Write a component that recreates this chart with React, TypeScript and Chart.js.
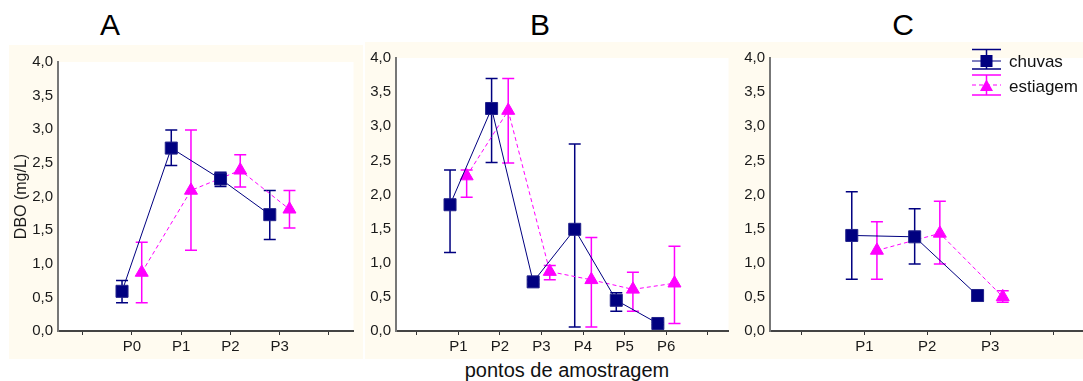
import React, { useEffect, useRef } from 'react';
import { Chart, registerables } from 'chart.js';

Chart.register(...registerables);

const FONT = "'Liberation Sans', Arial, sans-serif";

// ---------- data ----------
const yTickValues = [0, 0.5, 1, 1.5, 2, 2.5, 3, 3.5, 4];
const yTickLabels = ['0,0', '0,5', '1,0', '1,5', '2,0', '2,5', '3,0', '3,5', '4,0'];

const catsA = ['P0', 'P1', 'P2', 'P3'];
const chuvasA = [0.59, 2.72, 2.26, 1.73];
const chuvasALo = [0.42, 2.46, 2.15, 1.36];
const chuvasAHi = [0.75, 2.99, 2.36, 2.09];
const estiagemA = [0.87, 2.09, 2.39, 1.81];
const estiagemALo = [0.42, 1.2, 2.14, 1.53];
const estiagemAHi = [1.32, 2.99, 2.62, 2.09];

const catsB = ['P1', 'P2', 'P3', 'P4', 'P5', 'P6'];
const chuvasB = [1.85, 3.26, 0.72, 1.49, 0.45, 0.11];
const chuvasBLo = [1.15, 2.47, 0.69, 0.06, 0.29, 0.09];
const chuvasBHi = [2.36, 3.7, 0.75, 2.74, 0.56, 0.13];
const estiagemB = [2.27, 3.23, 0.87, 0.75, 0.61, 0.7];
const estiagemBLo = [1.96, 2.46, 0.75, 0.06, 0.29, 0.11];
const estiagemBHi = [2.36, 3.7, 0.96, 1.37, 0.86, 1.24];

const catsC = ['P1', 'P2', 'P3'];
const chuvasC = [1.4, 1.38, 0.52];
const chuvasCLo = [0.76, 0.98, 0.44];
const chuvasCHi = [2.04, 1.79, 0.59];
const estiagemC = [1.18, 1.43, 0.5];
const estiagemCLo = [0.76, 0.98, 0.42];
const estiagemCHi = [1.6, 1.9, 0.59];

const seriesNames = ['chuvas', 'estiagem'];
const yTitle = 'DBO (mg/L)';
const xTitle = 'pontos de amostragem';
const panelLetters = ['A', 'B', 'C'];

// ---------- styles ----------
const NAVY = '#000080';
const MAGENTA = '#FF00FF';
const CREAM = '#FFFBF0';
const OFFSET = 0.2;

const bgPlugin = {
  id: 'bg',
  beforeDraw(chart: any) {
    const { ctx, chartArea, width, height } = chart;
    ctx.save();
    ctx.fillStyle = CREAM;
    ctx.fillRect(0, 0, width, height);
    ctx.fillStyle = '#ffffff';
    ctx.fillRect(chartArea.left, chartArea.top, chartArea.right - chartArea.left, chartArea.bottom - chartArea.top);
    ctx.restore();
  },
};

const errorBarPlugin = {
  id: 'errbars',
  beforeDatasetsDraw(chart: any) {
    const { ctx } = chart;
    const yScale = chart.scales.y;
    chart.data.datasets.forEach((ds: any, di: number) => {
      const meta = chart.getDatasetMeta(di);
      ctx.save();
      ctx.strokeStyle = ds.errColor;
      ctx.lineWidth = 1.5;
      meta.data.forEach((pt: any, i: number) => {
        const x = pt.x;
        const yl = yScale.getPixelForValue(ds.errLo[i]);
        const yh = yScale.getPixelForValue(ds.errHi[i]);
        ctx.beginPath();
        ctx.moveTo(x, yl);
        ctx.lineTo(x, yh);
        ctx.moveTo(x - 6, yl);
        ctx.lineTo(x + 6, yl);
        ctx.moveTo(x - 6, yh);
        ctx.lineTo(x + 6, yh);
        ctx.stroke();
      });
      ctx.restore();
    });
  },
};

const legendPlugin = {
  id: 'customLegend',
  afterDraw(chart: any) {
    const { ctx } = chart;
    const x0 = 234;
    const x1 = 263;
    const cx = (x0 + x1) / 2;
    ctx.save();
    // chuvas
    ctx.strokeStyle = NAVY;
    ctx.lineWidth = 1.5;
    ctx.beginPath();
    ctx.moveTo(x0, 7.5); ctx.lineTo(x1, 7.5);
    ctx.moveTo(x0, 27); ctx.lineTo(x1, 27);
    ctx.moveTo(cx, 7.5); ctx.lineTo(cx, 27);
    ctx.stroke();
    ctx.lineWidth = 1;
    ctx.beginPath();
    ctx.moveTo(x0, 19); ctx.lineTo(x1, 19);
    ctx.stroke();
    ctx.fillStyle = NAVY;
    ctx.fillRect(cx - 6, 13, 12, 12);
    // estiagem
    ctx.strokeStyle = MAGENTA;
    ctx.lineWidth = 1.5;
    ctx.beginPath();
    ctx.moveTo(x0, 33); ctx.lineTo(x1, 33);
    ctx.moveTo(x0, 53); ctx.lineTo(x1, 53);
    ctx.moveTo(cx, 33); ctx.lineTo(cx, 53);
    ctx.stroke();
    ctx.lineWidth = 1;
    ctx.setLineDash([4, 3]);
    ctx.beginPath();
    ctx.moveTo(x0, 43); ctx.lineTo(x1, 43);
    ctx.stroke();
    ctx.setLineDash([]);
    ctx.fillStyle = MAGENTA;
    ctx.beginPath();
    ctx.moveTo(cx, 37.5);
    ctx.lineTo(cx + 6.5, 49);
    ctx.lineTo(cx - 6.5, 49);
    ctx.closePath();
    ctx.fill();
    // text
    ctx.fillStyle = '#111';
    ctx.font = `17px ${FONT}`;
    ctx.textAlign = 'left';
    ctx.textBaseline = 'alphabetic';
    ctx.fillText(seriesNames[0], 271, 24.7);
    ctx.fillText(seriesNames[1], 271, 49.7);
    ctx.restore();
  },
};

type PanelProps = {
  cats: string[];
  chuvas: number[];
  chuvasLo: number[];
  chuvasHi: number[];
  estiagem: number[];
  estiagemLo: number[];
  estiagemHi: number[];
  left: number;
  top: number;
  width: number;
  height: number;
  yWidth: number;
  padTop: number;
  padRight: number;
  xHeight: number;
  showYTitle?: boolean;
  showLegend?: boolean;
};

function Panel(p: PanelProps) {
  const ref = useRef<HTMLCanvasElement>(null);
  useEffect(() => {
    const n = p.cats.length;
    const tickPositions = Array.from({ length: n + 2 }, (_, i) => i);
    const plugins: any[] = [bgPlugin, errorBarPlugin];
    if (p.showLegend) plugins.push(legendPlugin);
    const chart = new Chart(ref.current as HTMLCanvasElement, {
      type: 'line',
      data: {
        datasets: [
          {
            label: seriesNames[0],
            data: p.chuvas.map((v, i) => ({ x: i + 1 - OFFSET, y: v })),
            errLo: p.chuvasLo,
            errHi: p.chuvasHi,
            errColor: NAVY,
            borderColor: NAVY,
            borderWidth: 1,
            pointStyle: 'rect',
            pointRadius: 8.5,
            pointBackgroundColor: NAVY,
            pointBorderColor: '#22228a',
            pointBorderWidth: 1,
            tension: 0,
            fill: false,
            clip: false,
          } as any,
          {
            label: seriesNames[1],
            data: p.estiagem.map((v, i) => ({ x: i + 1 + OFFSET, y: v })),
            errLo: p.estiagemLo,
            errHi: p.estiagemHi,
            errColor: MAGENTA,
            borderColor: MAGENTA,
            borderWidth: 1,
            borderDash: [4, 3],
            pointStyle: 'triangle',
            pointRadius: 7.5,
            pointBackgroundColor: MAGENTA,
            pointBorderColor: MAGENTA,
            pointBorderWidth: 1,
            tension: 0,
            fill: false,
            clip: false,
          } as any,
        ],
      },
      options: {
        responsive: false,
        animation: false,
        events: [],
        layout: { padding: { left: 0, top: p.padTop, right: p.padRight, bottom: 0 } },
        plugins: { legend: { display: false }, tooltip: { enabled: false } },
        scales: {
          x: {
            type: 'linear',
            position: 'bottom',
            min: -0.5,
            max: n + 1.5,
            afterBuildTicks: (s: any) => {
              s.ticks = tickPositions.map((v) => ({ value: v }));
            },
            afterFit: (s: any) => {
              s.height = p.xHeight;
            },
            ticks: {
              autoSkip: false,
              maxRotation: 0,
              padding: 3,
              color: '#1a1a1a',
              font: { family: FONT, size: 15 },
              callback: (v: any) => p.cats[Math.round(Number(v)) - 1] ?? '',
            },
            grid: { display: true, drawOnChartArea: false, drawTicks: true, tickLength: 4, color: '#333', lineWidth: 1 },
            border: { display: true, color: '#444', width: 2 },
          },
          y: {
            type: 'linear',
            min: 0,
            max: 4,
            afterBuildTicks: (s: any) => {
              s.ticks = yTickValues.map((v) => ({ value: v }));
            },
            afterFit: (s: any) => {
              s.width = p.yWidth;
            },
            ticks: {
              padding: 5,
              color: '#1a1a1a',
              font: { family: FONT, size: 15 },
              callback: (_v: any, i: number) => yTickLabels[i],
            },
            grid: { display: false, drawTicks: false },
            border: { display: true, color: '#777', width: 2 },
            title: {
              display: !!p.showYTitle,
              text: yTitle,
              color: '#1a1a1a',
              font: { family: FONT, size: 16 },
              padding: { top: 3, bottom: 0 },
            },
          },
        },
      } as any,
      plugins,
    });
    return () => chart.destroy();
  }, []);
  return (
    <div style={{ position: 'absolute', left: p.left, top: p.top, width: p.width, height: p.height }}>
      <canvas ref={ref} width={p.width} height={p.height} style={{ display: 'block' }} />
    </div>
  );
}

const letterStyle = (cx: number): React.CSSProperties => ({
  position: 'absolute',
  left: cx - 30,
  top: 10,
  width: 60,
  textAlign: 'center',
  fontFamily: FONT,
  fontSize: 30,
  lineHeight: '30px',
  color: '#000',
});

export default function App() {
  return (
    <div
      style={{
        position: 'absolute',
        left: 0,
        top: 0,
        width: 1083,
        height: 381,
        overflow: 'hidden',
        background: '#fff',
      }}
    >
      <Panel
        cats={catsA}
        chuvas={chuvasA}
        chuvasLo={chuvasALo}
        chuvasHi={chuvasAHi}
        estiagem={estiagemA}
        estiagemLo={estiagemALo}
        estiagemHi={estiagemAHi}
        left={9}
        top={45}
        width={354}
        height={314}
        yWidth={49}
        padTop={17}
        padRight={1}
        xHeight={28}
        showYTitle
      />
      <Panel
        cats={catsB}
        chuvas={chuvasB}
        chuvasLo={chuvasBLo}
        chuvasHi={chuvasBHi}
        estiagem={estiagemB}
        estiagemLo={estiagemBLo}
        estiagemHi={estiagemBHi}
        left={365}
        top={42}
        width={373}
        height={317}
        yWidth={31}
        padTop={16}
        padRight={0}
        xHeight={28}
      />
      <Panel
        cats={catsC}
        chuvas={chuvasC}
        chuvasLo={chuvasCLo}
        chuvasHi={chuvasCHi}
        estiagem={estiagemC}
        estiagemLo={estiagemCLo}
        estiagemHi={estiagemCHi}
        left={738}
        top={42}
        width={356}
        height={317}
        yWidth={32}
        padTop={16}
        padRight={5}
        xHeight={28}
        showLegend
      />
      <div style={letterStyle(110)}>{panelLetters[0]}</div>
      <div style={letterStyle(540)}>{panelLetters[1]}</div>
      <div style={letterStyle(903)}>{panelLetters[2]}</div>
      <div
        style={{
          position: 'absolute',
          left: 417,
          top: 360,
          width: 300,
          textAlign: 'center',
          fontFamily: FONT,
          fontSize: 20,
          lineHeight: '20px',
          color: '#111',
        }}
      >
        {xTitle}
      </div>
    </div>
  );
}
